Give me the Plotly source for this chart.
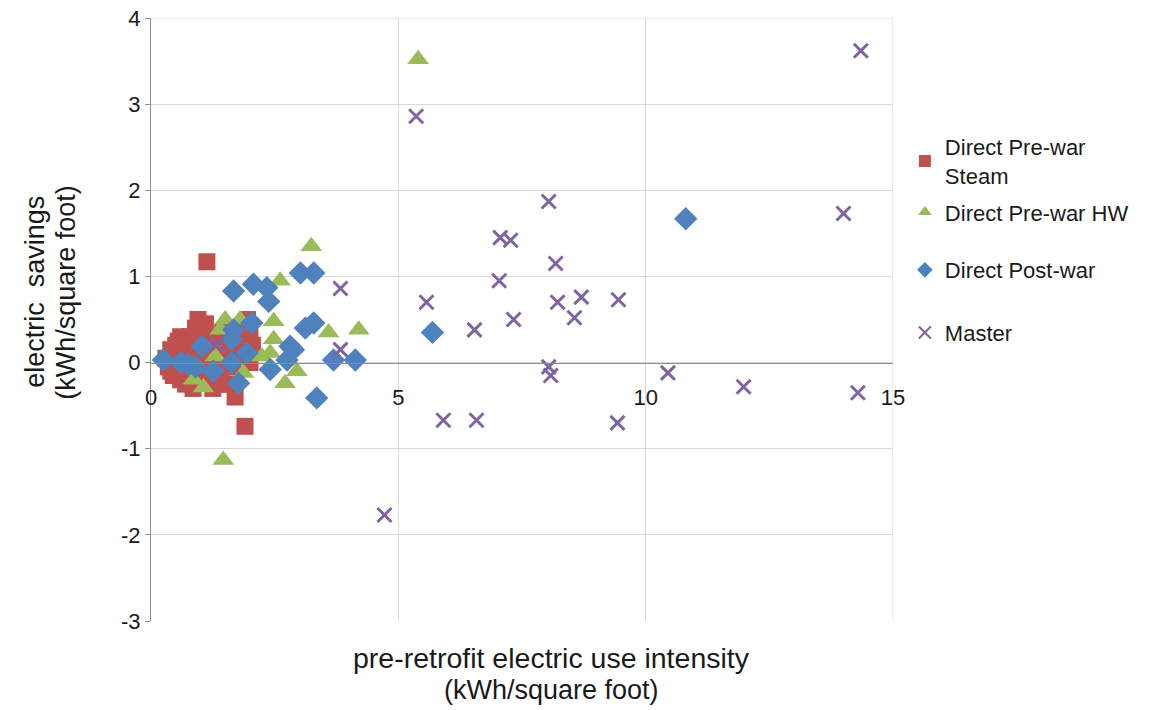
import plotly.graph_objects as go

# Direct Pre-war Steam
steam_x = [0.3, 0.35, 0.4, 0.45, 0.5, 0.55, 0.6, 0.6, 0.65, 0.7, 0.75, 0.8, 0.85, 0.9, 0.95,
           1.0, 1.0, 1.05, 1.1, 1.15, 1.2, 1.25, 1.3, 1.35, 1.4, 1.45, 1.5, 1.55, 1.6, 1.65,
           1.7, 1.75, 1.8, 1.9, 1.95, 2.0, 2.0, 2.05, 1.13, 0.5, 0.7, 0.9, 1.3, 0.8, 1.1,
           0.4, 0.55, 0.75, 0.95, 1.2, 1.45, 1.6, 0.65, 1.35, 1.85]
steam_y = [0.05, -0.05, 0.15, -0.15, 0.2, 0.0, -0.2, 0.3, 0.1, -0.25, 0.25, 0.0, -0.3, 0.4, 0.5,
           0.15, -0.2, 0.35, -0.1, 0.25, 0.0, -0.3, 0.3, 0.1, -0.15, 0.35, 0.05, -0.25, 0.2, -0.05,
           -0.4, 0.3, 0.1, -0.74, 0.5, 0.3, 0.0, 0.2, 1.17, -0.1, 0.15, -0.1, -0.1, 0.3, 0.45,
           -0.1, 0.25, -0.1, 0.05, 0.2, -0.05, 0.0, -0.05, -0.25, 0.2]

# Direct Pre-war HW
hw_x = [5.40, 1.46, 1.5, 1.8, 2.48, 2.61, 3.24, 2.48, 2.41, 2.24, 2.71, 2.95, 3.15, 3.59, 4.2,
        1.06, 0.86, 1.87, 1.3, 1.4]
hw_y = [3.52, -1.13, 0.50, 0.50, 0.48, 0.95, 1.35, 0.27, 0.11, 0.07, -0.24, -0.10, 0.42, 0.35, 0.38,
        -0.29, -0.20, -0.12, 0.07, 0.38]

# Direct Post-war
post_x = [10.81, 5.69, 0.25, 0.76, 1.03, 1.26, 1.67, 2.07, 2.34, 2.38, 3.02, 3.29, 1.67, 1.63,
          2.04, 1.94, 1.63, 1.77, 2.41, 2.75, 2.88, 2.81, 3.12, 3.29, 3.35, 3.69, 4.13, 0.6, 0.9]
post_y = [1.67, 0.35, 0.03, -0.02, 0.19, -0.10, 0.83, 0.91, 0.87, 0.71, 1.04, 1.04, 0.38, 0.27,
          0.46, 0.11, 0.0, -0.24, -0.08, 0.03, 0.15, 0.19, 0.40, 0.46, -0.41, 0.03, 0.03, 0.0, -0.05]

# Master
master_x = [14.35, 5.36, 8.04, 14.0, 7.06, 7.27, 8.18, 7.04, 5.57, 8.22, 8.70, 9.45, 6.54, 7.33,
            8.56, 3.83, 3.83, 1.34, 8.04, 8.08, 10.45, 11.98, 14.29, 5.91, 6.58, 9.43, 4.72]
master_y = [3.62, 2.86, 1.87, 1.73, 1.45, 1.42, 1.15, 0.95, 0.70, 0.70, 0.76, 0.73, 0.38, 0.50,
            0.52, 0.86, 0.15, 0.21, -0.05, -0.15, -0.12, -0.28, -0.35, -0.67, -0.67, -0.70, -1.77]

x_ticks = [0, 5, 10, 15]
y_ticks = [-3, -2, -1, 0, 1, 2, 3, 4]

FONT = "Liberation Sans, Arial, sans-serif"
TXT = "#1a1a1a"

fig = go.Figure()
fig.add_trace(go.Scatter(x=steam_x, y=steam_y, mode="markers", name="Direct Pre-war<br>Steam",
                         legend="legend",
                         marker=dict(symbol="square", size=17, color="#C0504D")))
fig.add_trace(go.Scatter(x=hw_x, y=hw_y, mode="markers", name="Direct Pre-war HW",
                         legend="legend2",
                         marker=dict(symbol="triangle-up", size=19, color="#9BBB59")))
fig.add_trace(go.Scatter(x=post_x, y=post_y, mode="markers", name="Direct Post-war",
                         legend="legend3",
                         marker=dict(symbol="diamond", size=18, color="#4F81BD")))
fig.add_trace(go.Scatter(x=master_x, y=master_y, mode="markers", name="Master",
                         legend="legend4",
                         marker=dict(symbol="x-thin", size=14, color="#8064A2",
                                     line=dict(width=3, color="#8064A2"))))

y0_frac = 3 / 7


def leg(y):
    return dict(x=1.016, y=y, xanchor="left", yanchor="middle",
                font=dict(family=FONT, size=22, color=TXT),
                itemsizing="constant", itemwidth=30, bgcolor="rgba(0,0,0,0)")


fig.update_layout(
    width=1157, height=710,
    margin=dict(l=151, r=264, t=18, b=89, autoexpand=False),
    plot_bgcolor="white", paper_bgcolor="white",
    font=dict(family=FONT, size=22, color=TXT),
    showlegend=True,
    legend=leg(0.762), legend2=leg(0.678), legend3=leg(0.582), legend4=leg(0.478),
    xaxis=dict(range=[0, 15], tickvals=x_ticks, ticktext=[str(v) for v in x_ticks],
               showgrid=True, gridcolor="#d9d9d9", gridwidth=1, automargin=False,
               zeroline=False, showline=True, linecolor="#8c8c8c", linewidth=1,
               ticks="", ticklabelstandoff=15, ticklabeloverflow="allow",
               anchor="free", position=y0_frac,
               tickfont=dict(family=FONT, size=22, color=TXT)),
    yaxis=dict(range=[-3, 4], tickvals=y_ticks, ticktext=[str(v) for v in y_ticks],
               showgrid=True, gridcolor="#d9d9d9", gridwidth=1, automargin=False,
               zeroline=False, showline=True, linecolor="#8c8c8c", linewidth=1,
               ticks="outside", ticklen=5, tickcolor="#8c8c8c", ticklabeloverflow="allow",
               tickfont=dict(family=FONT, size=22, color=TXT)),
)

fig.add_shape(type="line", xref="x", yref="y", x0=15, x1=15, y0=-3, y1=4,
              line=dict(color="#d9d9d9", width=1), layer="below")
fig.add_shape(type="line", xref="x", yref="y", x0=0, x1=15, y0=4, y1=4,
              line=dict(color="#d9d9d9", width=1), layer="below")

# axis titles (two lines each)
TF = dict(family=FONT, size=27, color=TXT)
fig.add_annotation(text="pre-retrofit electric use intensity", xref="paper", yref="paper",
                   x=0.540, y=-0.0614, xanchor="center", yanchor="middle",
                   showarrow=False, font=dict(family=FONT, size=28.5, color=TXT))
fig.add_annotation(text="(kWh/square foot)", xref="paper", yref="paper",
                   x=0.540, y=-0.1144, xanchor="center", yanchor="middle",
                   showarrow=False, font=TF)
fig.add_annotation(text="electric  savings", xref="paper", yref="paper",
                   x=-0.1563, y=0.546, xanchor="center", yanchor="middle", textangle=-90,
                   showarrow=False, font=TF)
fig.add_annotation(text="(kWh/square foot)", xref="paper", yref="paper",
                   x=-0.1146, y=0.546, xanchor="center", yanchor="middle", textangle=-90,
                   showarrow=False, font=TF)

fig.write_html("out.html", config={"displayModeBar": False},
               post_script="document.body.style.margin='0';")
